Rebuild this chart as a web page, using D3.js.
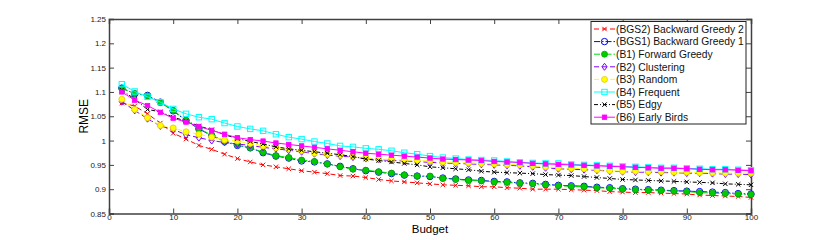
<!DOCTYPE html>
<html>
<head>
<meta charset="utf-8">
<script src="https://cdn.jsdelivr.net/npm/d3@7"></script>
<style>
  body { margin: 0; background: #fff; }
  svg { display: block; font-family: "Liberation Sans", Arial, sans-serif; }
</style>
</head>
<body>
<div class="chart"></div>
<script>
const budget = [2,4,6,8,10,12,14,16,18,20,22,24,26,28,30,32,34,36,38,40,42,44,46,48,50,
  52,54,56,58,60,62,64,66,68,70,72,74,76,78,80,82,84,86,88,90,92,94,96,98,100];

const bgs2 = [1.077,1.071,1.055,1.036,1.015,1.003,0.990,0.982,0.972,0.963,0.956,0.950,0.946,0.942,0.938,0.935,0.932,0.928,0.927,0.924,0.920,0.917,0.915,0.913,0.911,
  0.909,0.908,0.907,0.905,0.905,0.903,0.902,0.900,0.900,0.900,0.899,0.898,0.897,0.895,0.894,0.893,0.893,0.892,0.891,0.890,0.888,0.887,0.886,0.885,0.883];
const bgs1 = [1.108,1.096,1.093,1.079,1.061,1.041,1.024,1.010,0.998,0.990,0.985,0.975,0.968,0.964,0.958,0.956,0.952,0.947,0.942,0.938,0.935,0.932,0.929,0.927,0.926,
  0.923,0.921,0.919,0.918,0.916,0.915,0.913,0.912,0.910,0.908,0.907,0.906,0.904,0.903,0.901,0.900,0.899,0.898,0.897,0.896,0.895,0.894,0.893,0.891,0.890];
const b1 = [1.107,1.097,1.092,1.078,1.062,1.042,1.025,1.011,0.999,0.991,0.985,0.976,0.969,0.965,0.960,0.957,0.952,0.946,0.941,0.939,0.936,0.933,0.929,0.927,0.927,
  0.922,0.920,0.918,0.917,0.915,0.914,0.912,0.911,0.909,0.907,0.906,0.905,0.903,0.902,0.900,0.899,0.898,0.897,0.896,0.895,0.893,0.892,0.891,0.890,0.889];
const b2 = [1.080,1.062,1.045,1.030,1.023,1.012,1.006,1.000,0.996,0.993,0.990,0.986,0.983,0.980,0.977,0.973,0.970,0.968,0.966,0.963,0.961,0.959,0.958,0.957,0.955,
  0.954,0.953,0.952,0.951,0.950,0.949,0.948,0.946,0.944,0.942,0.941,0.940,0.939,0.937,0.936,0.935,0.935,0.934,0.934,0.933,0.933,0.932,0.931,0.931,0.930];
const b3 = [1.085,1.064,1.047,1.031,1.026,1.018,1.013,1.007,1.001,0.999,0.994,0.989,0.985,0.983,0.979,0.974,0.972,0.970,0.968,0.964,0.962,0.961,0.960,0.959,0.958,
  0.956,0.955,0.954,0.953,0.952,0.951,0.950,0.948,0.946,0.944,0.943,0.942,0.940,0.938,0.937,0.937,0.936,0.936,0.935,0.935,0.934,0.934,0.933,0.933,0.933];
const b4 = [1.116,1.101,1.090,1.079,1.065,1.055,1.048,1.044,1.036,1.029,1.024,1.020,1.013,1.007,1.003,0.998,0.994,0.989,0.987,0.984,0.982,0.979,0.975,0.972,0.968,
  0.965,0.963,0.961,0.960,0.959,0.957,0.955,0.954,0.953,0.953,0.951,0.950,0.949,0.948,0.947,0.946,0.945,0.944,0.944,0.943,0.942,0.941,0.941,0.940,0.939];
const b5 = [1.104,1.085,1.064,1.059,1.048,1.040,1.030,1.022,1.012,1.004,0.998,0.993,0.987,0.983,0.980,0.977,0.974,0.971,0.967,0.962,0.959,0.956,0.953,0.950,0.946,
  0.944,0.942,0.940,0.937,0.935,0.934,0.933,0.932,0.930,0.929,0.928,0.926,0.924,0.922,0.920,0.919,0.918,0.917,0.916,0.915,0.914,0.913,0.911,0.910,0.909];
const b6 = [1.100,1.083,1.072,1.058,1.046,1.038,1.029,1.021,1.013,1.006,1.002,0.999,0.995,0.992,0.989,0.986,0.983,0.980,0.977,0.974,0.972,0.970,0.968,0.966,0.964,
  0.962,0.961,0.960,0.959,0.957,0.956,0.955,0.953,0.952,0.951,0.950,0.949,0.948,0.947,0.946,0.945,0.944,0.943,0.943,0.942,0.941,0.940,0.940,0.939,0.938];

const names = ['(BGS2) Backward Greedy 2','(BGS1) Backward Greedy 1','(B1) Forward Greedy','(B2) Clustering',
  '(B3) Random','(B4) Frequent','(B5) Edgy','(B6) Early Birds'];
const xTicks = [0,10,20,30,40,50,60,70,80,90,100];
const yTicks = [0.85,0.9,0.95,1,1.05,1.1,1.15,1.2,1.25];

const series = [
  { name: names[0], values: bgs2, color: '#ff0000', dash: '5,3', marker: 'x', fill: 'none' },
  { name: names[1], values: bgs1, color: '#0000ff', dash: '6,2,1.5,2', marker: 'circle', fill: 'none' },
  { name: names[2], values: b1, color: '#00dd00', dash: '6,2,1.5,2', marker: 'dot', fill: '#00cc00' },
  { name: names[3], values: b2, color: '#8000ff', dash: '5,3', marker: 'diamond', fill: 'none' },
  { name: names[4], values: b3, color: '#ffff00', dash: '5,3', marker: 'dot', fill: '#ffff00' },
  { name: names[5], values: b4, color: '#00ffff', dash: null, marker: 'square', fill: 'none' },
  { name: names[6], values: b5, color: '#000000', dash: '4,2,1,2', marker: 'x', fill: 'none' },
  { name: names[7], values: b6, color: '#ff00ff', dash: null, marker: 'fsquare', fill: '#ff00ff' }
];

const svg = d3.select('.chart').append('svg').attr('width', 830).attr('height', 240);
const margin = { left: 109, right: 751, top: 19, bottom: 213.5 };

const x = d3.scaleLinear().domain([0, 100]).range([margin.left, margin.right]);
const y = d3.scaleLinear().domain([0.85, 1.25]).range([margin.bottom, margin.top]);

// axes, MATLAB style: box with inward ticks
const frame = '#404040';
svg.append('g').attr('transform', `translate(0,${margin.bottom})`)
  .call(d3.axisBottom(x).tickValues(xTicks).tickSize(-5).tickPadding(1).tickFormat(d3.format('d')));
svg.append('g').attr('transform', `translate(0,${margin.top})`)
  .call(d3.axisTop(x).tickValues(xTicks).tickSize(-5).tickFormat(''));
svg.append('g').attr('transform', `translate(${margin.left},0)`)
  .call(d3.axisLeft(y).tickValues(yTicks).tickSize(-5).tickPadding(3).tickFormat(d => String(+d.toFixed(2))));
svg.append('g').attr('transform', `translate(${margin.right},0)`)
  .call(d3.axisRight(y).tickValues(yTicks).tickSize(-5).tickFormat(''));
svg.selectAll('.domain').attr('stroke', frame).attr('stroke-width', 1.5);
svg.selectAll('.tick line').attr('stroke', frame);
svg.selectAll('.tick text').attr('font-size', 8).attr('fill', '#222')
  .attr('font-family', '"Liberation Sans", Arial, sans-serif');

svg.append('text').attr('x', (margin.left + margin.right) / 2).attr('y', 233)
  .attr('text-anchor', 'middle').attr('font-size', 11.5).text('Budget');
svg.append('text').attr('transform', `translate(88,${(margin.top + margin.bottom) / 2}) rotate(-90)`)
  .attr('text-anchor', 'middle').attr('font-size', 12).text('RMSE');

function drawMarker(g, type, s, cx, cy) {
  if (type === 'x') {
    g.append('path').attr('d', `M${cx-2.2},${cy-2.2}L${cx+2.2},${cy+2.2}M${cx-2.2},${cy+2.2}L${cx+2.2},${cy-2.2}`)
      .attr('stroke', s.color).attr('stroke-width', 1).attr('fill', 'none');
  } else if (type === 'circle') {
    g.append('circle').attr('cx', cx).attr('cy', cy).attr('r', 3.2)
      .attr('stroke', s.color).attr('stroke-width', 1).attr('fill', 'none');
  } else if (type === 'dot') {
    g.append('circle').attr('cx', cx).attr('cy', cy).attr('r', 3)
      .attr('stroke', s.color === '#ffff00' ? '#e8c800' : '#00aa00').attr('stroke-width', 0.8).attr('fill', s.fill);
  } else if (type === 'diamond') {
    g.append('path').attr('d', `M${cx},${cy-3.5}L${cx+2.6},${cy}L${cx},${cy+3.5}L${cx-2.6},${cy}Z`)
      .attr('stroke', s.color).attr('stroke-width', 1).attr('fill', 'none');
  } else if (type === 'square') {
    g.append('rect').attr('x', cx - 2.7).attr('y', cy - 2.7).attr('width', 5.4).attr('height', 5.4)
      .attr('stroke', s.color).attr('stroke-width', 1).attr('fill', 'none');
  } else if (type === 'fsquare') {
    g.append('rect').attr('x', cx - 2.2).attr('y', cy - 2.2).attr('width', 4.4).attr('height', 4.4)
      .attr('stroke', s.color).attr('stroke-width', 0.8).attr('fill', s.fill);
  }
}

const line = d3.line().x((d, i) => x(budget[i])).y(d => y(d));

series.forEach(s => {
  const g = svg.append('g');
  g.append('path').datum(s.values)
    .attr('d', line)
    .attr('fill', 'none')
    .attr('stroke', s.color)
    .attr('stroke-width', 1)
    .attr('stroke-dasharray', s.dash);
  s.values.forEach((v, i) => drawMarker(g, s.marker, s, x(budget[i]), y(v)));
});

// legend
const lg = svg.append('g');
const lx = 591, ly = 21.5, lw = 155, rowH = 12.6;
lg.append('rect').attr('x', lx).attr('y', ly).attr('width', lw).attr('height', 102.5)
  .attr('fill', '#fff').attr('stroke', '#222').attr('stroke-width', 1);
series.forEach((s, i) => {
  const cy = ly + 7.5 + i * rowH;
  lg.append('line').attr('x1', lx + 3).attr('x2', lx + 24).attr('y1', cy).attr('y2', cy)
    .attr('stroke', s.color).attr('stroke-width', 1).attr('stroke-dasharray', s.dash);
  drawMarker(lg, s.marker, s, lx + 13.5, cy);
  lg.append('text').attr('x', lx + 25).attr('y', cy + 3.7).attr('font-size', 10.3)
    .attr('fill', '#111').text(s.name);
});
</script>
</body>
</html>
